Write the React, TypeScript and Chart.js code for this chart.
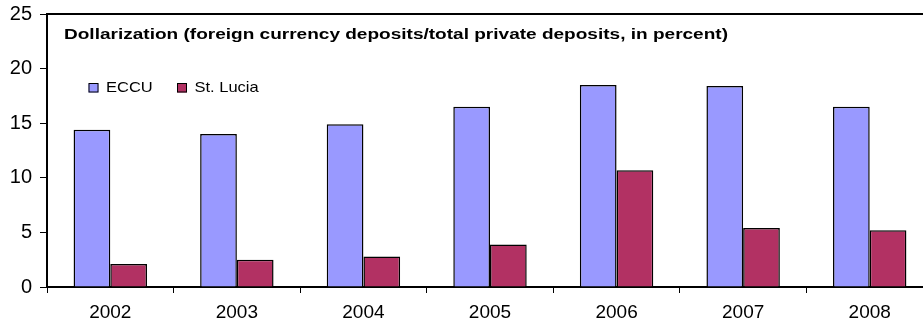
import React, { useEffect, useRef } from "react";
import { Chart, registerables } from "chart.js";

Chart.register(...registerables);

const years = ["2002", "2003", "2004", "2005", "2006", "2007", "2008"];
const eccu = [14.4, 14.0, 14.9, 16.5, 18.5, 18.4, 16.5];
const stLucia = [2.1, 2.5, 2.8, 3.9, 10.7, 5.4, 5.2];
const seriesNames = ["ECCU", "St. Lucia"];
const seriesColors = ["#9999FF", "#B23163"];
const yTicks = [0, 5, 10, 15, 20, 25];
const innerTitle = "Dollarization (foreign currency deposits/total private deposits, in percent)";

const FONT = "'Liberation Sans', Arial, sans-serif";

function drawStretched(ctx: CanvasRenderingContext2D, text: string, x: number, y: number, sx: number) {
  ctx.save();
  ctx.translate(x, y);
  ctx.scale(sx, 1);
  ctx.fillText(text, 0, 0);
  ctx.restore();
}

export default function App() {
  const ref = useRef<HTMLCanvasElement | null>(null);
  useEffect(() => {
    document.body.style.margin = "0";
    document.body.style.overflow = "hidden";
    const canvas = ref.current!;
    const overlay = {
      id: "overlay",
      afterDraw(chart: any) {
        const ctx: CanvasRenderingContext2D = chart.ctx;
        const a = chart.chartArea;
        ctx.save();
        ctx.strokeStyle = "#000";
        ctx.lineWidth = 2;
        ctx.beginPath();
        ctx.moveTo(a.left, a.bottom);
        ctx.lineTo(a.left, a.top);
        ctx.lineTo(a.right, a.top);
        ctx.lineTo(a.right, a.bottom);
        ctx.stroke();
        // inner title
        ctx.fillStyle = "#000";
        ctx.font = `bold 15px ${FONT}`;
        ctx.textBaseline = "alphabetic";
        ctx.textAlign = "left";
        const tw = ctx.measureText(innerTitle).width;
        drawStretched(ctx, innerTitle, a.left + 17, a.top + 25, 664 / tw);
        // legend
        ctx.font = `15px ${FONT}`;
        const lx = [a.left + 41.5, a.left + 130];
        chart.data.datasets.forEach((ds: any, i: number) => {
          ctx.fillStyle = ds.backgroundColor;
          ctx.strokeStyle = "#000";
          ctx.lineWidth = 1;
          ctx.fillRect(lx[i], a.top + 69.5, 10, 9);
          ctx.strokeRect(lx[i] + 0.5, a.top + 69.5, 9, 8.5);
          ctx.fillStyle = "#000";
          drawStretched(ctx, ds.label, lx[i] + 17.5, a.top + 78, 1.1);
        });
        ctx.restore();
      },
    };
    const chart = new Chart(canvas, {
      type: "bar",
      data: {
        labels: years,
        datasets: [
          {
            label: seriesNames[0],
            data: eccu,
            backgroundColor: seriesColors[0],
            borderColor: "#000",
            borderWidth: 1.5,
            categoryPercentage: 0.58,
            barPercentage: 1,
          },
          {
            label: seriesNames[1],
            data: stLucia,
            backgroundColor: seriesColors[1],
            borderColor: "#000",
            borderWidth: 1.5,
            categoryPercentage: 0.58,
            barPercentage: 1,
          },
        ],
      },
      options: {
        responsive: false,
        animation: false,
        devicePixelRatio: 1,
        layout: { padding: { top: 14, left: 0, right: 7, bottom: 0 } },
        plugins: { legend: { display: false }, title: { display: false }, tooltip: { enabled: false } },
        scales: {
          x: {
            offset: true,
            grid: { offset: true, drawOnChartArea: false, drawTicks: true, tickLength: 6, color: "#000", lineWidth: 1 },
            border: { display: true, color: "#000", width: 2 },
            ticks: { color: "#000", font: { family: FONT, size: 19 }, padding: 8, maxRotation: 0, autoSkip: false },
            afterFit(scale: any) {
              scale.height = 37;
              scale.paddingLeft = 0;
              scale.paddingRight = 0;
            },
          },
          y: {
            min: 0,
            max: 25,
            afterBuildTicks(scale: any) {
              scale.ticks = yTicks.map((v) => ({ value: v }));
            },
            grid: { drawOnChartArea: false, drawTicks: true, tickLength: 7, color: "#000", lineWidth: 1 },
            border: { display: true, color: "#000", width: 2 },
            ticks: { color: "#000", font: { family: FONT, size: 20 }, padding: 8 },
            afterFit(scale: any) {
              scale.width = 47;
              scale.paddingTop = 0;
              scale.paddingBottom = 0;
            },
          },
        },
      },
      plugins: [overlay],
    });
    return () => chart.destroy();
  }, []);
  return (
    <div style={{ width: 923, height: 324, overflow: "hidden", background: "#fff" }}>
      <canvas ref={ref} width={940} height={324} style={{ display: "block" }} />
    </div>
  );
}
